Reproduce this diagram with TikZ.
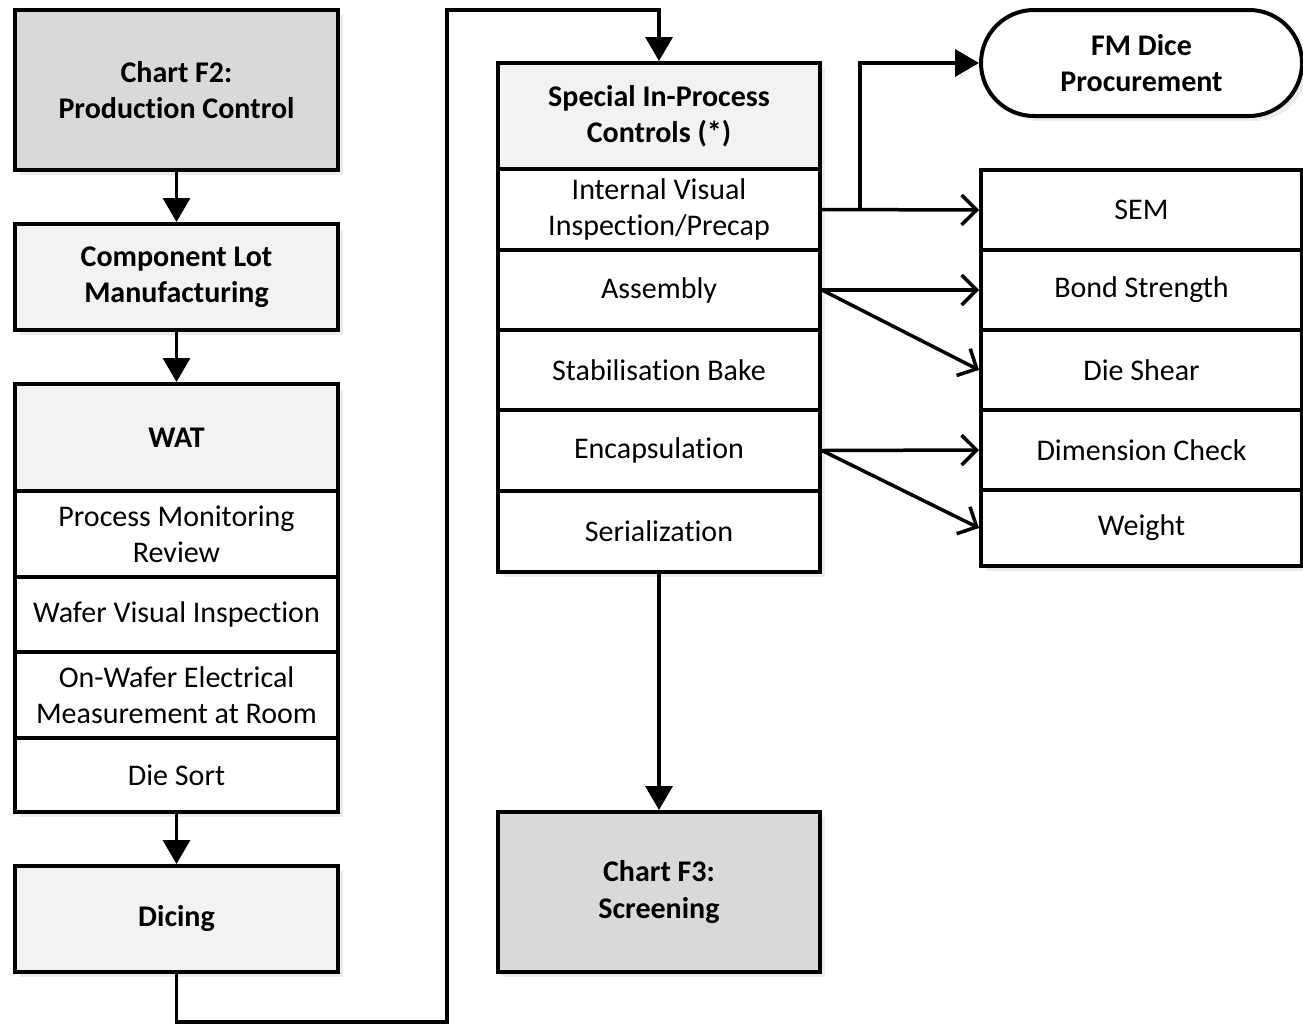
\documentclass[tikz,border=0pt]{standalone}
\usepackage{fontspec}
\setmainfont{Carlito}[Ligatures=NoCommon]
\usetikzlibrary{arrows.meta,shadows}

\begin{document}
\begin{tikzpicture}[x=1pt, y=-1pt,
    every node/.style={draw, line width=4pt, fill=white, align=center,
      font=\fontsize{30}{36}\selectfont,
      drop shadow={shadow xshift=5pt, shadow yshift=-5pt, fill=black!15}},
    colL/.style={minimum width=323pt},
    colM/.style={minimum width=322pt},
    colR/.style={minimum width=321pt},
    head/.style={fill=black!5, font=\fontsize{30}{36}\selectfont\bfseries},
    chart/.style={fill=black!15, font=\fontsize{30}{36}\selectfont\bfseries},
    flow/.style={line width=3.5pt, -{Triangle[length=24pt,width=27pt]}},
    test/.style={line width=3.5pt, -{Straight Barb[length=15pt,width=30pt]}}]
    \useasboundingbox (0,0) rectangle (1303,1026);

    % Left column: wafer fabrication
    \node[colL, chart, minimum height=160pt] (f2) at (176.5,90) {Chart F2:\\Production Control};
    \node[colL, head, minimum height=106pt] (lot) at (176.5,277) {Component Lot\\Manufacturing};
    \node[colL, head, minimum height=107pt] (wat) at (176.5,437.5) {WAT};
    \node[colL, minimum height=86pt] (pmr) at (176.5,534) {Process Monitoring\\Review};
    \node[colL, minimum height=75pt] (wvi) at (176.5,614.5) {Wafer Visual Inspection};
    \node[colL, minimum height=86pt] (owe) at (176.5,695) {On-Wafer Electrical\\Measurement at Room};
    \node[colL, minimum height=74pt] (sort) at (176.5,775) {Die Sort};
    \node[colL, head, minimum height=106pt] (dicing) at (176.5,919) {Dicing};

    % Middle column: in-process controls
    \node[colM, head, minimum height=106pt] (spc) at (659,116) {Special In-Process\\Controls (*)};
    \node[colM, minimum height=81pt] (ivi) at (659,209.5) {Internal Visual\\Inspection/Precap};
    \node[colM, minimum height=80pt] (asm) at (659,290) {Assembly};
    \node[colM, minimum height=80pt] (bake) at (659,370) {Stabilisation Bake};
    \node[colM, minimum height=81pt] (encap) at (659,450.5) {Encapsulation};
    \node[colM, minimum height=81pt] (serial) at (659,531.5) {Serialization};
    \node[colM, chart, minimum height=160pt] (f3) at (659,892) {Chart F3:\\Screening};

    % Right column: procurement and tests
    \node[colR, rounded corners=53pt, minimum height=106pt,
      font=\fontsize{30}{36}\selectfont\bfseries] (fm) at (1141.5,63) {FM Dice\\Procurement};
    \node[colR, minimum height=80pt] (sem) at (1141.5,210) {SEM};
    \node[colR, minimum height=80pt] (bond) at (1141.5,290) {Bond Strength};
    \node[colR, minimum height=80pt] (shear) at (1141.5,370) {Die Shear};
    \node[colR, minimum height=80pt] (dim) at (1141.5,450) {Dimension Check};
    \node[colR, minimum height=76pt] (weight) at (1141.5,528) {Weight};

    % Main flow
    \coordinate (loopA) at (447,1022);
    \coordinate (loopB) at (447,10);
    \coordinate (fork) at (860,209.5);
    \draw[flow] (f2) -- (lot);
    \draw[flow] (lot) -- (wat);
    \draw[flow] (sort) -- (dicing);
    \draw[flow] (dicing.south) |- (loopA) -- (loopB) -| (spc.north);
    \draw[flow] (serial) -- (f3);
    \draw[flow] (fork) |- (fm.west);

    % Tests
    \draw[test] (ivi.east) -- (sem.west);
    \draw[test] (asm.east) -- (bond.west);
    \draw[test] (asm.east) -- (shear.west);
    \draw[test] (encap.east) -- (dim.west);
    \draw[test] (encap.east) -- (weight.west);
\end{tikzpicture}
\end{document}
